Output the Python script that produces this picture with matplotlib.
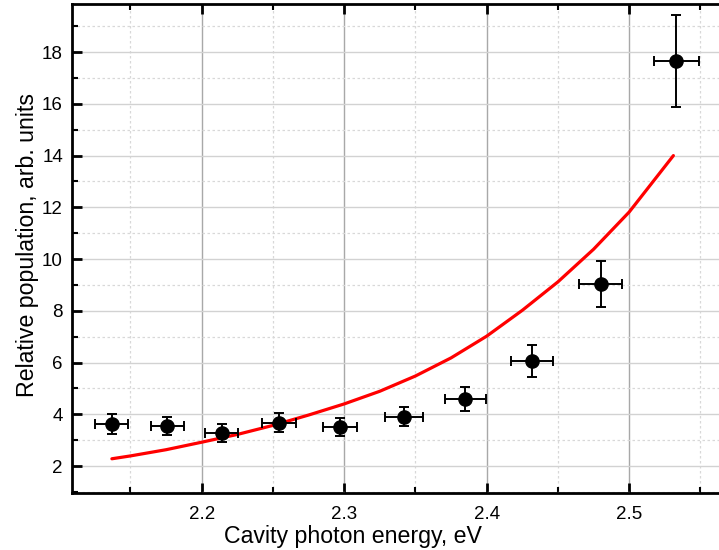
import numpy as np
import matplotlib.pyplot as plt
from matplotlib.ticker import MultipleLocator

plt.rcParams['font.family'] = ['Liberation Sans', 'DejaVu Sans']

# measured points
energy = [2.137, 2.176, 2.214, 2.254, 2.297, 2.342, 2.385, 2.432, 2.480, 2.533]
population = [3.62, 3.55, 3.26, 3.67, 3.50, 3.91, 4.59, 6.06, 9.03, 17.65]
pop_err = [0.38, 0.35, 0.35, 0.37, 0.35, 0.38, 0.46, 0.62, 0.90, 1.77]
energy_err = [0.0115, 0.0115, 0.0115, 0.012, 0.012, 0.0135, 0.0144, 0.0147, 0.015, 0.0158]

# model curve
fit_x = [2.137, 2.150, 2.175, 2.200, 2.225, 2.250, 2.275, 2.300, 2.325,
         2.350, 2.375, 2.400, 2.425, 2.450, 2.475, 2.500, 2.531]
fit_y = [2.28, 2.39, 2.63, 2.92, 3.22, 3.57, 3.97, 4.40, 4.89,
         5.48, 6.18, 7.02, 8.02, 9.12, 10.38, 11.82, 14.00]

fig = plt.figure(figsize=(7.19, 5.5), dpi=100)
ax = fig.add_axes([0.1001, 0.1036, 0.8999, 0.8891])

ax.plot(fit_x, fit_y, color='#ff0000', lw=2.3, zorder=3,
        solid_joinstyle='round', solid_capstyle='round')
ax.errorbar(energy, population, yerr=pop_err, xerr=energy_err, fmt='o',
            color='black', ms=9.5, elinewidth=1.4, capsize=3.9, capthick=1.4,
            zorder=4)

ax.set_xlim(2.109, 2.563)
ax.set_ylim(0.956, 19.86)
ax.xaxis.set_major_locator(MultipleLocator(0.1))
ax.xaxis.set_minor_locator(MultipleLocator(0.05))
ax.yaxis.set_major_locator(MultipleLocator(2))
ax.yaxis.set_minor_locator(MultipleLocator(1))
ax.xaxis.set_major_formatter(plt.FuncFormatter(lambda v, p: '%.1f' % v))

ax.grid(True, axis='x', which='major', color='#a8a8a8', lw=1.0, ls='-')
ax.grid(True, axis='y', which='major', color='#d2d2d2', lw=1.0, ls='-')
ax.grid(True, which='minor', color='#d8d8d8', lw=0.9, ls=(0, (2, 2)))
ax.set_axisbelow(True)

ax.tick_params(which='major', direction='in', length=7, width=2, labelsize=13.5,
               top=True, right=False)
ax.tick_params(axis='x', which='major', pad=9)
ax.tick_params(axis='y', which='major', pad=6.5)
ax.tick_params(which='minor', direction='in', length=4, width=1.5,
               top=True, right=False)
for s in ['left', 'bottom', 'top']:
    ax.spines[s].set_linewidth(2)
ax.spines['right'].set_visible(False)

ax.set_xlabel('Cavity photon energy, eV', fontsize=16.7)
ax.set_ylabel('Relative population, arb. units', fontsize=16.7)
ax.xaxis.set_label_coords(0.4336, -0.066)
ax.yaxis.set_label_coords(-0.051, 0.507)

fig.savefig('out.png', dpi=100)
